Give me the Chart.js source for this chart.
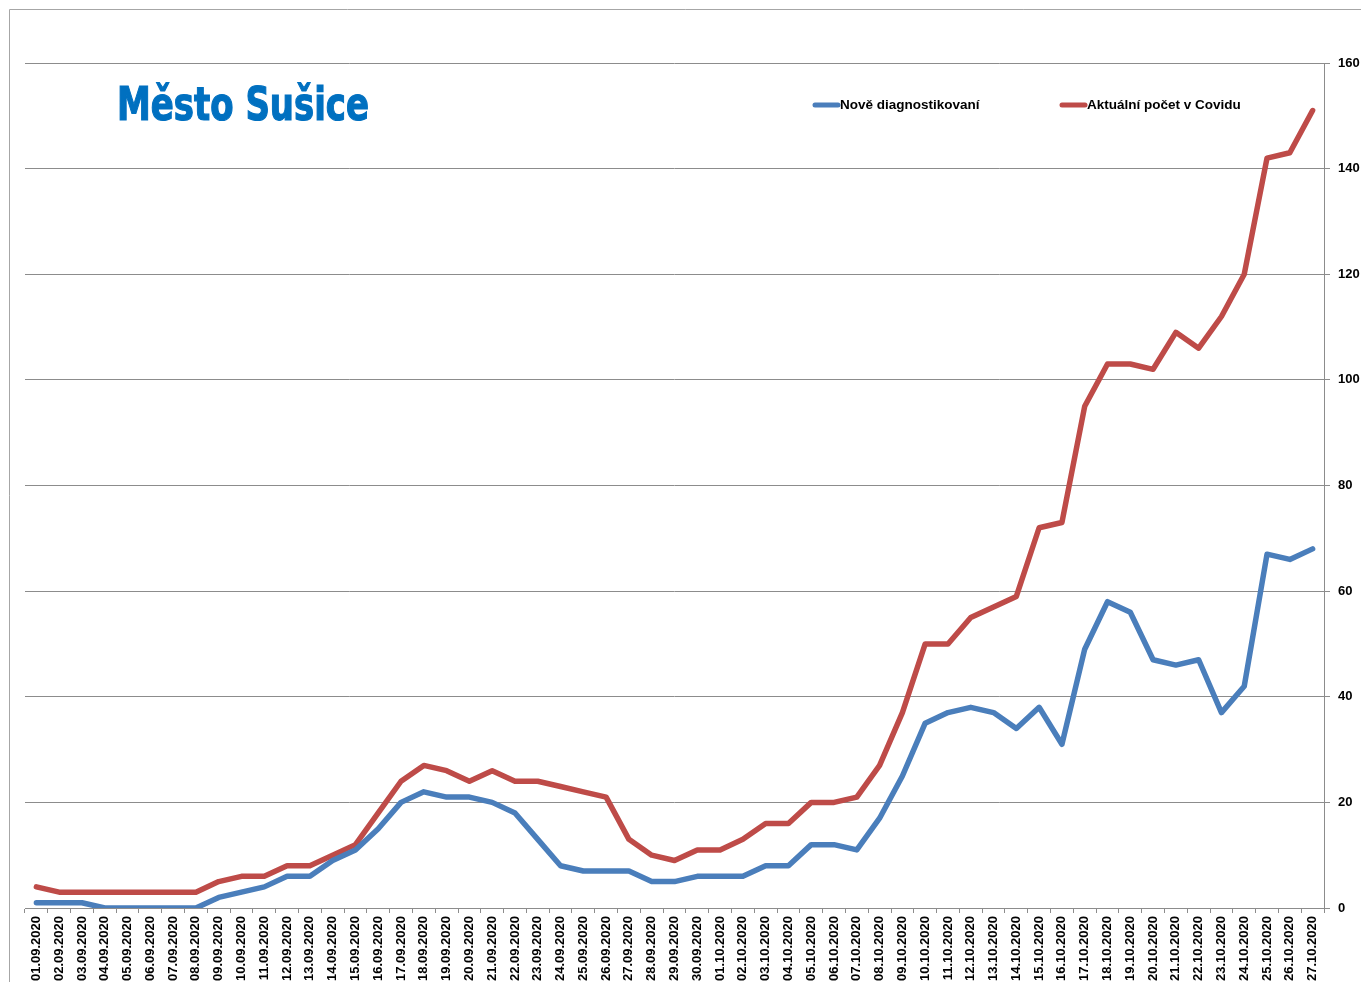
<!DOCTYPE html>
<html>
<head>
<meta charset="utf-8">
<script src="https://cdn.jsdelivr.net/npm/chart.js@4.4.1/dist/chart.umd.min.js"></script>
<style>
  html, body { margin: 0; padding: 0; background: #fff; }
  #wrap { position: relative; width: 1361px; height: 982px; overflow: hidden; }
  canvas { display: block; }
</style>
</head>
<body>
<div id="wrap"><canvas id="c" width="1361" height="982"></canvas></div>
<script>
const chartTitle = "Město Sušice";
const categories = [
  "01.09.2020","02.09.2020","03.09.2020","04.09.2020","05.09.2020","06.09.2020","07.09.2020","08.09.2020","09.09.2020","10.09.2020",
  "11.09.2020","12.09.2020","13.09.2020","14.09.2020","15.09.2020","16.09.2020","17.09.2020","18.09.2020","19.09.2020","20.09.2020",
  "21.09.2020","22.09.2020","23.09.2020","24.09.2020","25.09.2020","26.09.2020","27.09.2020","28.09.2020","29.09.2020","30.09.2020",
  "01.10.2020","02.10.2020","03.10.2020","04.10.2020","05.10.2020","06.10.2020","07.10.2020","08.10.2020","09.10.2020","10.10.2020",
  "11.10.2020","12.10.2020","13.10.2020","14.10.2020","15.10.2020","16.10.2020","17.10.2020","18.10.2020","19.10.2020","20.10.2020",
  "21.10.2020","22.10.2020","23.10.2020","24.10.2020","25.10.2020","26.10.2020","27.10.2020"
];
const seriesNames = ["Nově diagnostikovaní", "Aktuální počet v Covidu"];
const newCases = [
  1,1,1,0,0,0,0,0,2,3,
  4,6,6,9,11,15,20,22,21,21,
  20,18,13,8,7,7,7,5,5,6,
  6,6,8,8,12,12,11,17,25,35,
  37,38,37,34,38,31,49,58,56,47,
  46,47,37,42,67,66,68
];
const activeCases = [
  4,3,3,3,3,3,3,3,5,6,
  6,8,8,10,12,18,24,27,26,24,
  26,24,24,23,22,21,13,10,9,11,
  11,13,16,16,20,20,21,27,37,50,
  50,55,57,59,72,73,95,103,103,102,
  109,106,112,120,142,143,151
];
const yMin = 0, yMax = 160, yStep = 20;

const BLUE = "#4A7EBB";
const RED = "#BE4B48";
const GRID = "#8C8C8C";
const FONT = "'Liberation Sans', Arial, sans-serif";

const framePlugin = {
  id: "frame",
  beforeDraw(chart) {
    const ctx = chart.ctx;
    ctx.save();
    ctx.strokeStyle = "#A6A6A6";
    ctx.lineWidth = 1;
    ctx.beginPath();
    ctx.moveTo(9.5, 982);
    ctx.lineTo(9.5, 9.5);
    ctx.lineTo(1361, 9.5);
    ctx.stroke();
    ctx.restore();
  }
};

const overlayPlugin = {
  id: "overlay",
  afterDraw(chart) {
    const ctx = chart.ctx;
    ctx.save();
    // title: heavy condensed look, fitted to the reference width
    ctx.fillStyle = "#0070C0";
    ctx.font = "bold 47px 'DejaVu Sans Condensed', 'DejaVu Sans', sans-serif";
    ctx.textBaseline = "alphabetic";
    ctx.textAlign = "left";
    const w = ctx.measureText(chartTitle).width;
    const sx = 252 / w;
    ctx.translate(117, 120);
    ctx.scale(sx, 1);
    ctx.lineWidth = 1.2;
    ctx.strokeStyle = "#0070C0";
    ctx.fillText(chartTitle, 0, 0);
    ctx.strokeText(chartTitle, 0, 0);
    ctx.restore();

    ctx.save();
    const items = [
      { x: 813, color: BLUE, text: chart.data.datasets[0].label },
      { x: 1060, color: RED, text: chart.data.datasets[1].label }
    ];
    ctx.font = "bold 13.5px " + FONT;
    ctx.textBaseline = "middle";
    items.forEach(it => {
      ctx.strokeStyle = it.color;
      ctx.lineWidth = 5;
      ctx.lineCap = "round";
      ctx.beginPath();
      ctx.moveTo(it.x + 2, 105);
      ctx.lineTo(it.x + 25, 105);
      ctx.stroke();
      ctx.fillStyle = "#000";
      ctx.fillText(it.text, it.x + 27, 105);
    });
    ctx.restore();
  }
};

new Chart(document.getElementById("c"), {
  type: "line",
  data: {
    labels: categories,
    datasets: [
      { label: seriesNames[0], data: newCases, borderColor: BLUE, backgroundColor: BLUE },
      { label: seriesNames[1], data: activeCases, borderColor: RED, backgroundColor: RED }
    ]
  },
  options: {
    responsive: false,
    animation: false,
    devicePixelRatio: 1,
    layout: { padding: { left: 25, top: 63, right: 0, bottom: 0 } },
    elements: {
      line: { borderWidth: 5.5, tension: 0, borderJoinStyle: "round", borderCapStyle: "round", fill: false },
      point: { radius: 0, hoverRadius: 0 }
    },
    plugins: {
      legend: { display: false },
      title: { display: false },
      tooltip: { enabled: false }
    },
    scales: {
      x: {
        type: "category",
        offset: true,
        grid: { offset: true, drawOnChartArea: false, drawTicks: true, tickLength: 5, color: GRID },
        border: { color: GRID },
        ticks: {
          autoSkip: false, minRotation: 90, maxRotation: 90, padding: 3,
          color: "#000", font: { family: FONT, size: 13, weight: "bold" }
        },
        afterFit(s) { s.height = 74; }
      },
      y: {
        position: "right",
        min: yMin, max: yMax,
        grid: { color: GRID, tickLength: 6 },
        border: { color: GRID },
        ticks: {
          stepSize: yStep, padding: 8,
          color: "#000", font: { family: FONT, size: 13, weight: "bold" }
        },
        afterFit(s) { s.width = 37; }
      }
    }
  },
  plugins: [framePlugin, overlayPlugin]
});
</script>
</body>
</html>
